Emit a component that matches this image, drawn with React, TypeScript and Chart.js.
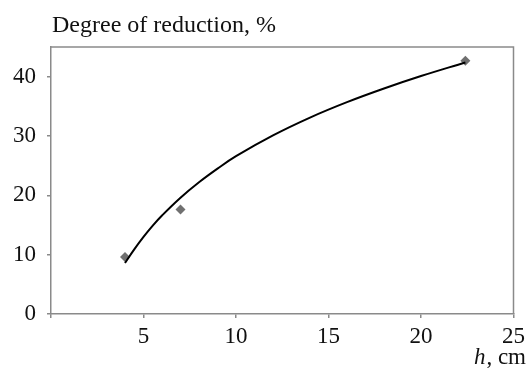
import React, { useEffect, useRef } from "react";
import { Chart, registerables } from "chart.js";

Chart.register(...registerables);

const measuredH = [4.0, 7.0, 22.4];
const measuredReduction = [9.6, 17.6, 42.7];

const trendH = [4, 4.5, 5, 5.5, 6, 7, 8, 9, 10, 12, 14, 16, 18, 20, 22.4];
const trendReduction = [8.6, 10.9, 13.0, 14.9, 16.6, 19.6, 22.2, 24.5, 26.6, 30.1, 33.1, 35.7, 38.0, 40.1, 42.4];

const xTicks = [5, 10, 15, 20, 25];
const yTickLabels = [0, 10, 20, 30, 40];

const yTitle = "Degree of reduction, %";
const xTitleItalic = "h";
const xTitleRest = ", cm";

const FONT = "'Liberation Serif', 'DejaVu Serif', serif";
const AXIS = "#8a8a8a";
const FS = 23;

const textPlugin = {
  id: "texts",
  afterDraw(chart: any) {
    const { ctx, chartArea } = chart;
    ctx.save();
    ctx.strokeStyle = AXIS;
    ctx.lineWidth = 1.5;
    ctx.beginPath();
    ctx.moveTo(chartArea.left, chartArea.top);
    ctx.lineTo(chartArea.right, chartArea.top);
    ctx.lineTo(chartArea.right, chartArea.bottom);
    ctx.stroke();
    ctx.fillStyle = "#111";
    ctx.textBaseline = "alphabetic";
    ctx.textAlign = "left";
    ctx.font = `24px ${FONT}`;
    ctx.fillText(yTitle, 52, 32);
    ctx.font = `${FS}px ${FONT}`;
    const restW = ctx.measureText(xTitleRest).width;
    const right = 526;
    ctx.fillText(xTitleRest, right - restW, 364);
    ctx.font = `italic ${FS}px ${FONT}`;
    const hW = ctx.measureText(xTitleItalic).width;
    ctx.fillText(xTitleItalic, right - restW - hW - 1, 364);
    ctx.restore();
  },
};

export default function App() {
  const ref = useRef<HTMLCanvasElement>(null);
  useEffect(() => {
    document.body.style.margin = "0";
    const chart = new Chart(ref.current!, {
      type: "scatter",
      data: {
        datasets: [
          {
            label: "trend",
            data: trendH.map((x, i) => ({ x, y: trendReduction[i] })),
            showLine: true,
            borderColor: "#000",
            borderWidth: 2,
            pointRadius: 0,
            tension: 0.4,
            fill: false,
          } as any,
          {
            label: "measured",
            data: measuredH.map((x, i) => ({ x, y: measuredReduction[i] })),
            pointStyle: "rectRot",
            pointRadius: 5,
            backgroundColor: "#707070",
            borderColor: "#707070",
            borderWidth: 0,
          },
        ],
      },
      options: {
        animation: false,
        responsive: false,
        maintainAspectRatio: false,
        layout: { padding: { left: 0, top: 47, right: 14, bottom: 0 } },
        plugins: { legend: { display: false }, tooltip: { enabled: false }, title: { display: false } },
        scales: {
          x: {
            type: "linear",
            min: 0,
            max: 25,
            afterFit: (s: any) => { s.height = 61; },
            afterBuildTicks: (s: any) => { s.ticks = [0, ...xTicks].map((v) => ({ value: v })); },
            ticks: {
              font: { family: FONT, size: FS },
              color: "#111",
              padding: 5,
              maxRotation: 0,
              callback: (v: any) => (xTicks.includes(Number(v)) ? String(v) : ""),
            },
            grid: { drawOnChartArea: false, drawTicks: true, tickLength: 4, color: AXIS, lineWidth: 1.5 },
            border: { display: true, color: AXIS, width: 1.5 },
          },
          y: {
            type: "linear",
            min: 0,
            max: 45,
            afterFit: (s: any) => { s.width = 51; },
            ticks: {
              stepSize: 5,
              font: { family: FONT, size: FS },
              color: "#111",
              padding: 11,
              callback: (v: any) => (yTickLabels.includes(Number(v)) ? String(v) : ""),
            },
            grid: { drawOnChartArea: false, drawTicks: true, tickLength: 4, color: AXIS, lineWidth: 1.5 },
            border: { display: true, color: AXIS, width: 1.5 },
          },
        },
      },
      plugins: [textPlugin],
    });
    return () => chart.destroy();
  }, []);
  return (
    <div style={{ position: "relative", width: 530, height: 375 }}>
      <canvas ref={ref} width={530} height={375} style={{ width: 530, height: 375, display: "block" }} />
    </div>
  );
}
